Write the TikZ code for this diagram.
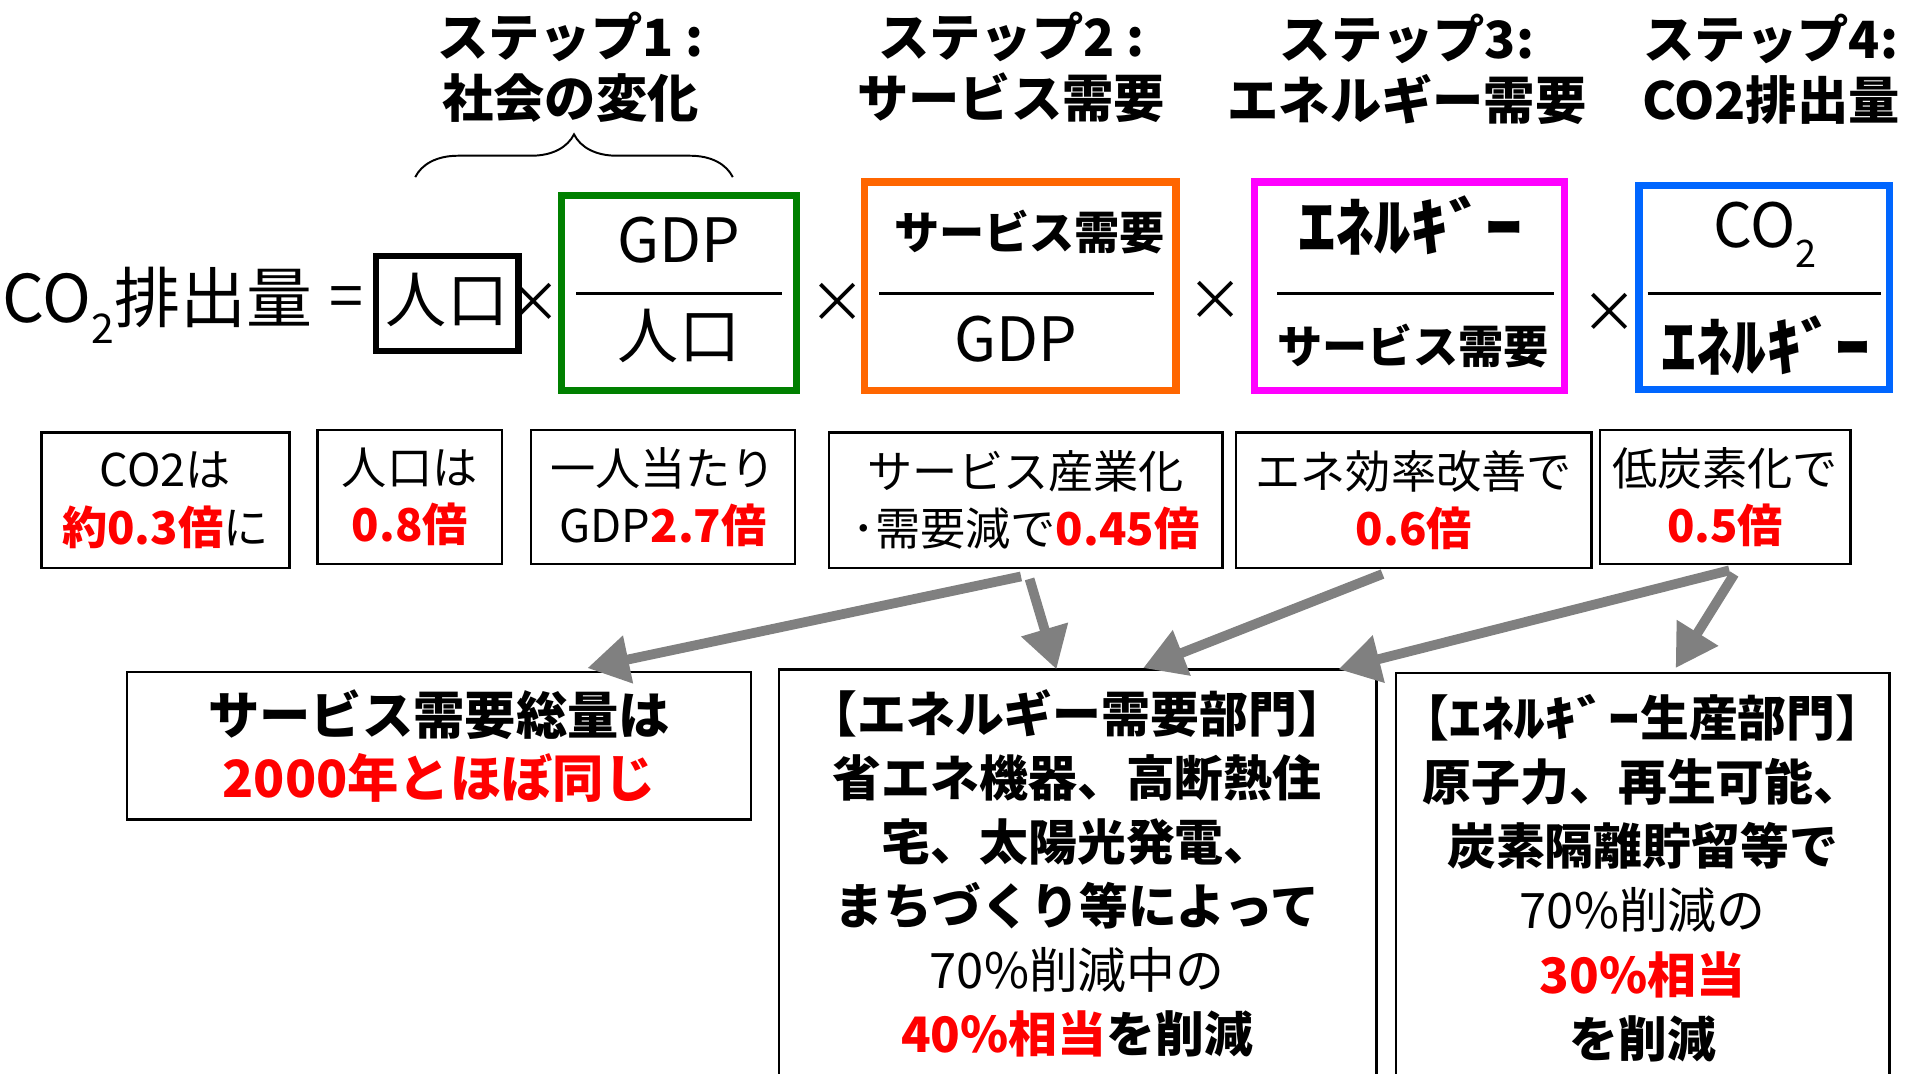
\documentclass[tikz,border=0pt]{standalone}
\usepackage{fontspec}
\setmainfont{Noto Sans CJK JP}
\usetikzlibrary{arrows.meta,decorations.pathreplacing}
\definecolor{cgreen}{HTML}{008000}
\definecolor{corange}{HTML}{FF6600}
\definecolor{cmag}{HTML}{FF00FF}
\definecolor{cblue}{HTML}{0066FF}
\definecolor{cred}{HTML}{FF0000}
\definecolor{cgray}{HTML}{808080}
\newcommand\fsz[2]{\fontsize{#1}{#2}\selectfont}
\newcommand\rd[1]{{\color{cred}\bfseries #1}}
\newcommand\subtwo{\raisebox{-0.32em}{\scalebox{0.62}{2}}}
\newcommand\hkana[2]{\scalebox{#1}[1]{#2}}
\begin{document}
\begin{tikzpicture}[x=1pt,y=-1pt,
  title/.style={align=center,font=\bfseries\fsz{42}{50},inner sep=0pt},
  fracbox/.style={draw,line width=6pt,inner sep=0pt},
  fracline/.style={line width=2.5pt},
  big/.style={font=\fsz{50}{50},inner sep=0pt},
  bigb/.style={font=\bfseries\fsz{37}{37},inner sep=0pt},
  kana/.style={font=\bfseries\fsz{52}{52},inner sep=0pt},
  times/.style={font=\fsz{46}{46},inner sep=0pt},
  info/.style={draw,line width=2pt,inner sep=0pt,align=center,font=\fsz{37}{47}},
  lowbox/.style={draw,line width=2pt,inner sep=0pt},
  lowtext/.style={align=center,inner sep=0pt,font=\bfseries\fsz{40}{52.5}},
  arr/.style={draw=cgray,line width=8pt,-{Triangle[length=34pt,width=38pt]}}
]
\useasboundingbox (0,0) rectangle (1568,879);
\clip (0,0) rectangle (1568,879);

% step titles
\node[title] (st1) at (467,55) {ステップ1 :\\社会の変化};
\node[title] (st2) at (828,55) {ステップ2 :\\サービス需要};
\node[title] (st3) at (1152,57) {ステップ3:\\エネルギー需要};
\node[title] (st4) at (1450,57) {ステップ4:\\CO2排出量};

% brace
\coordinate (brL) at (340,145);
\coordinate (brR) at (600,145);
\draw[line width=1.6pt,decorate,decoration={brace,amplitude=35pt}] (brL) -- (brR);

% formula
\node[font=\fsz{54}{54},inner sep=0pt,anchor=west] (co2) at (2,250) {CO\subtwo 排出量};
\node[big] (eq) at (284,248) {=};
\node[draw,line width=5pt,minimum width=117pt,minimum height=78pt,inner sep=0pt] (pop) at (366,248.5) {};
\node[big] (popt) at (366,246) {人口};
\node[times] (x1) at (437,248) {×};

\node[fracbox,draw=cgreen,minimum width=192pt,minimum height=160pt] (fg) at (556,240) {};
\draw[fracline] (472,240) -- (640,240);
\node[big] (fgn) at (556,197) {GDP};
\node[big] (fgd) at (556,275) {人口};
\node[times] (x2) at (686,248) {×};

\node[fracbox,draw=corange,minimum width=255pt,minimum height=171pt] (fo) at (835.5,234.5) {};
\draw[fracline] (720,240) -- (945,240);
\node[bigb] (fon) at (843,190) {サービス需要};
\node[big] (fod) at (832,278) {GDP};
\node[times] (x3) at (995,246) {×};

\node[fracbox,draw=cmag,minimum width=254pt,minimum height=171pt] (fm) at (1154,234.5) {};
\draw[fracline] (1046,240) -- (1272,240);
\node[kana] (fmn) at (1155,185) {\hkana{1.18}{ｴﾈﾙｷﾞｰ}};
\node[bigb] (fmd) at (1157,283) {サービス需要};
\node[times] (x4) at (1318,256) {×};

\node[fracbox,draw=cblue,minimum width=205pt,minimum height=167pt] (fb) at (1444.5,235.5) {};
\draw[fracline] (1349,240) -- (1540,240);
\node[big] (fbn) at (1445,192) {CO\subtwo};
\node[kana] (fbd) at (1446,283) {\hkana{1.1}{ｴﾈﾙｷﾞｰ}};

% row 2
\node[info,minimum width=203pt,minimum height=111pt] (r1) at (135.5,409.5) {CO2は\\\rd{約0.3倍}に};
\node[info,minimum width=151pt,minimum height=110pt] (r2) at (335.5,407) {人口は\\\rd{0.8倍}};
\node[info,minimum width=216pt,minimum height=110pt] (r3) at (543,407) {一人当たり\\GDP\rd{2.7倍}};
\node[info,minimum width=322pt,minimum height=111pt] (r4) at (840,409.5) {サービス産業化\\･需要減で\rd{0.45倍}};
\node[info,minimum width=291pt,minimum height=111pt] (r5) at (1157.5,409.5) {エネ効率改善で\\\rd{0.6倍}};
\node[info,minimum width=205pt,minimum height=110pt] (r6) at (1412.5,407) {低炭素化で\\\rd{0.5倍}};

% bottom boxes
\node[lowbox,minimum width=511pt,minimum height=121pt] (bA) at (359.5,610.5) {};
\node[lowtext,font=\bfseries\fsz{42}{52}] (tA) at (359.5,611) {サービス需要総量は\\\rd{2000年とほぼ同じ}};
\node[lowbox,minimum width=489pt,minimum height=352pt] (bB) at (882.5,724) {};
\node[lowtext] (tB) at (882,715) {【エネルギー需要部門】\\省エネ機器、高断熱住\\宅、太陽光発電、\\まちづくり等によって\\{\mdseries 70\%削減中の}\\\rd{40\%相当}を削減};
\node[lowbox,minimum width=404pt,minimum height=349pt] (bC) at (1345,725.5) {};
\node[lowtext] (tC) at (1345,719) {【\hkana{1.3}{ｴﾈﾙｷﾞｰ}生産部門】\\原子力、再生可能、\\炭素隔離貯留等で\\{\mdseries 70\%削減の}\\\rd{30\%相当}\\を削減};

% arrows
\coordinate (a1s) at (836,472);
\coordinate (a1e) at (481,547);
\coordinate (a2s) at (843,474);
\coordinate (a2e) at (865,548);
\coordinate (a3s) at (1132,470);
\coordinate (a3e) at (936,547);
\coordinate (a4s) at (1416,467);
\coordinate (a4e) at (1096,548);
\coordinate (a5s) at (1420,470);
\coordinate (a5e) at (1372,547);
\draw[arr] (a1s) -- (a1e);
\draw[arr] (a2s) -- (a2e);
\draw[arr] (a3s) -- (a3e);
\draw[arr] (a4s) -- (a4e);
\draw[arr] (a5s) -- (a5e);
\end{tikzpicture}
\end{document}
